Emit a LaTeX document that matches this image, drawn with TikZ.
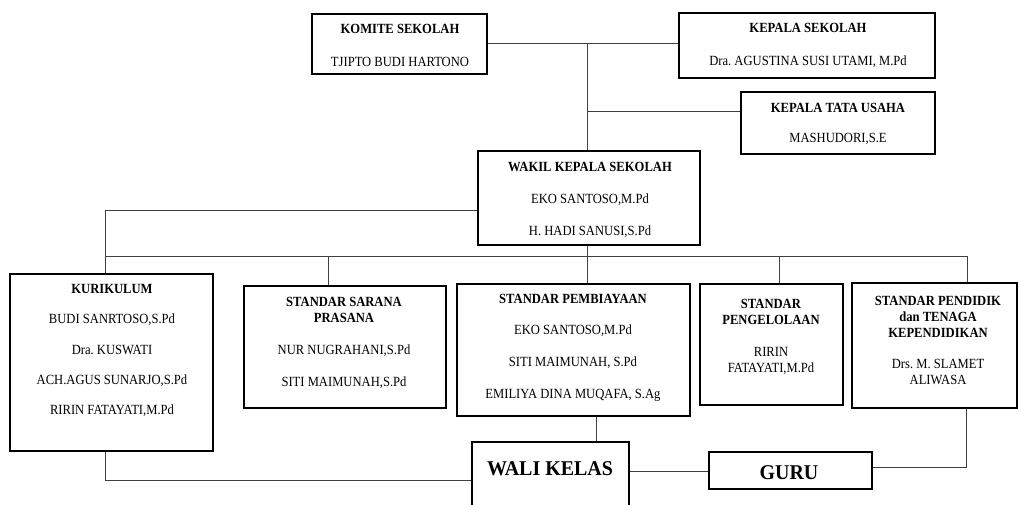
\documentclass[tikz,border=0pt]{standalone}
\usepackage{fontspec}
\setmainfont[FakeStretch=0.9]{Liberation Serif}
\newfontfamily\bigfont[FakeStretch=0.95]{Liberation Serif}
\frenchspacing
\begin{document}
\begin{tikzpicture}[x=1pt,y=-1pt,
  box/.style={draw=black, line width=1.8pt, inner sep=0pt},
  conn/.style={draw=black!75, line width=1pt},
  txt/.style={align=center, inner sep=0pt, font=\fontsize{14}{32}\selectfont},
  txtb/.style={align=center, inner sep=0pt, font=\fontsize{14}{16}\selectfont},
  big/.style={inner sep=0pt, font=\bigfont\fontsize{21}{24}\selectfont\bfseries}]
\useasboundingbox (0,0) rectangle (1019,504);

% boxes
\node[box, minimum width=175, minimum height=60] (kom) at (399.5,44) {};
\node[box, minimum width=256, minimum height=65] (kep) at (807,45.5) {};
\node[box, minimum width=194, minimum height=62] (ktu) at (838,123) {};
\node[box, minimum width=222, minimum height=94] (wak) at (589,198) {};
\node[box, minimum width=203, minimum height=177] (kur) at (111.5,362.5) {};
\node[box, minimum width=202, minimum height=122] (sar) at (345,347) {};
\node[box, minimum width=233, minimum height=132] (pem) at (573.5,350) {};
\node[box, minimum width=143, minimum height=121] (pen) at (771.5,344.5) {};
\node[box, minimum width=165, minimum height=125] (pdk) at (934.5,345.5) {};
\node[box, minimum width=157, minimum height=80] (wal) at (550.5,482) {};
\node[box, minimum width=163, minimum height=37] (gur) at (790.5,470.5) {};

% texts
\node[txt, font=\fontsize{14}{33}\selectfont] (komT) at (400,45.5) {\textbf{KOMITE SEKOLAH}\\TJIPTO BUDI HARTONO};
\node[txt, font=\fontsize{14}{33}\selectfont] (kepT) at (808,45.5) {\textbf{KEPALA SEKOLAH}\\Dra. AGUSTINA SUSI UTAMI, M.Pd};
\node[txt, font=\fontsize{14}{30}\selectfont] (ktuT) at (838,123.5) {\textbf{KEPALA TATA USAHA}\\MASHUDORI,S.E};
\node[txt] (wakT) at (590,200) {\textbf{WAKIL KEPALA SEKOLAH}\\EKO SANTOSO,M.Pd\\H. HADI SANUSI,S.Pd};
\node[txt, font=\fontsize{14}{30.25}\selectfont] (kurT) at (112,350.5) {\textbf{KURIKULUM}\\BUDI SANRTOSO,S.Pd\\Dra. KUSWATI\\ACH.AGUS SUNARJO,S.Pd\\RIRIN FATAYATI,M.Pd};
\node[txtb] (sarT) at (344,342.5) {\textbf{STANDAR SARANA}\\\textbf{PRASANA}\\[16pt]NUR NUGRAHANI,S.Pd\\[16pt]SITI MAIMUNAH,S.Pd};
\node[txt, font=\fontsize{14}{31.7}\selectfont] (pemT) at (573,347.5) {\textbf{STANDAR PEMBIAYAAN}\\EKO SANTOSO,M.Pd\\SITI MAIMUNAH, S.Pd\\EMILIYA DINA MUQAFA, S.Ag};
\node[txtb] (penT) at (771,337) {\textbf{STANDAR}\\\textbf{PENGELOLAAN}\\[16pt]RIRIN\\FATAYATI,M.Pd};
\node[txtb] (pdkT) at (938,340) {\textbf{STANDAR PENDIDIK}\\\textbf{dan TENAGA}\\\textbf{KEPENDIDIKAN}\\[15pt]Drs. M. SLAMET\\ALIWASA};
\node[big] (walT) at (550,469) {WALI KELAS};
\node[big] (gurT) at (789,473) {GURU};

% junctions
\coordinate (j1) at (587,43);
\coordinate (j2) at (587,111);
\coordinate (j3) at (105,210);
\coordinate (b1) at (105,256);
\coordinate (b2) at (967,256);
\coordinate (s1) at (328,256);
\coordinate (s2) at (779,256);
\coordinate (j4) at (105,480);
\coordinate (j5) at (596,430);
\coordinate (j6) at (600,471);
\coordinate (j7) at (966,467);

% connectors
\draw[conn] (kom.east |- j1) -- (kep.west |- j1);
\draw[conn] (j1) -- (j1 |- wak.north);
\draw[conn] (j2) -- (ktu.west |- j2);
\draw[conn] (wak.west |- j3) -- (j3) -- (j3 |- kur.north);
\draw[conn] (b1) -- (b2);
\draw[conn] (wak.south -| j1) -- (pem.north -| j1);
\draw[conn] (s1) -- (s1 |- sar.north);
\draw[conn] (s2) -- (s2 |- pen.north);
\draw[conn] (b2) -- (b2 |- pdk.north);
\draw[conn] (j4 |- kur.south) -- (j4) -- (wal.west |- j4);
\draw[conn] (j5 |- pem.south) -- (j5 |- wal.north);
\draw[conn] (wal.east |- j6) -- (gur.west |- j6);
\draw[conn] (gur.east |- j7) -- (j7) -- (j7 |- pdk.south);
\end{tikzpicture}
\end{document}
